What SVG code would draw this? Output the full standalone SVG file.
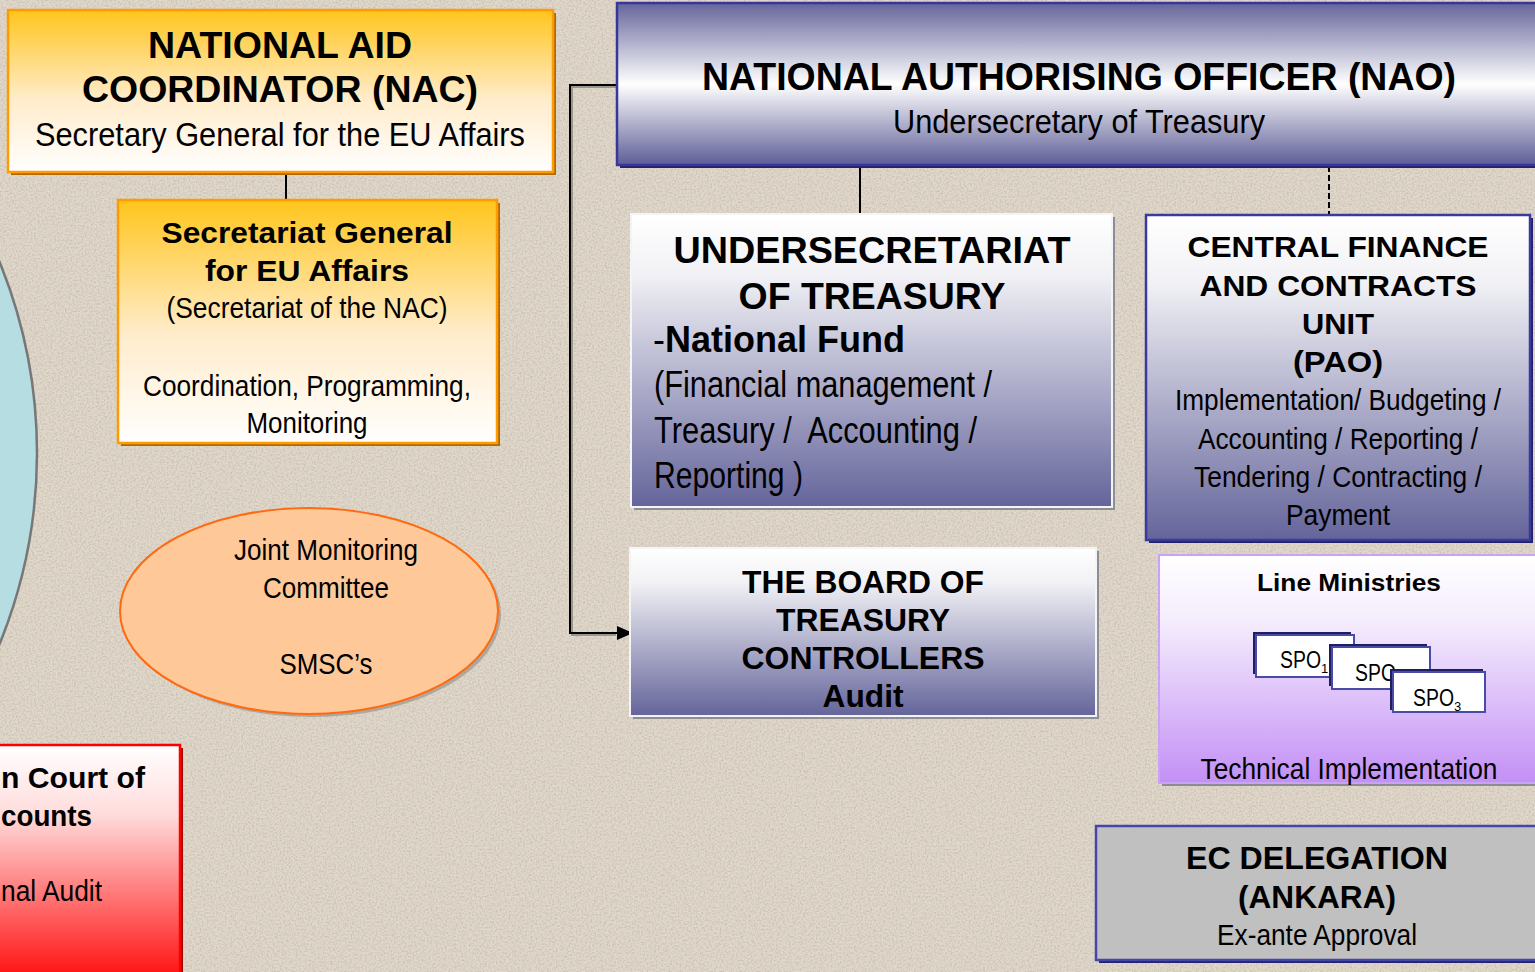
<svg xmlns="http://www.w3.org/2000/svg" width="1535" height="972" viewBox="0 0 1535 972">
  <defs>
    <filter id="grain" x="0" y="0" width="100%" height="100%">
      <feTurbulence type="fractalNoise" baseFrequency="0.55" numOctaves="3" seed="7" result="n"/>
      <feColorMatrix in="n" type="matrix" values="0 0 0 0 0.45  0 0 0 0 0.42  0 0 0 0 0.38  0 0 0 -2.2 1.35" />
    </filter>
    <linearGradient id="gYellow" x1="0" y1="0" x2="0" y2="1">
      <stop offset="0" stop-color="#ffc51c"/>
      <stop offset="0.55" stop-color="#ffeccb"/>
      <stop offset="1" stop-color="#ffffff"/>
    </linearGradient>
    <linearGradient id="gNao" x1="0" y1="0" x2="0" y2="1">
      <stop offset="0" stop-color="#65659b"/>
      <stop offset="0.5" stop-color="#ffffff"/>
      <stop offset="1" stop-color="#5d5d97"/>
    </linearGradient>
    <linearGradient id="gBlue" x1="0" y1="0" x2="0" y2="1">
      <stop offset="0" stop-color="#ffffff"/>
      <stop offset="0.2" stop-color="#f2f2f6"/>
      <stop offset="1" stop-color="#64649b"/>
    </linearGradient>
    <linearGradient id="gViolet" x1="0" y1="0" x2="0" y2="1">
      <stop offset="0" stop-color="#ffffff"/>
      <stop offset="0.3" stop-color="#f4ecfd"/>
      <stop offset="1" stop-color="#c38ff5"/>
    </linearGradient>
    <linearGradient id="gRed" x1="0" y1="0" x2="0" y2="1">
      <stop offset="0" stop-color="#ffffff"/>
      <stop offset="0.3" stop-color="#ffdcdc"/>
      <stop offset="1" stop-color="#ff1414"/>
    </linearGradient>
    <marker id="arrow" viewBox="0 0 16 14" refX="15" refY="7" markerWidth="16" markerHeight="14" markerUnits="userSpaceOnUse" orient="auto">
      <path d="M0,0 L16,7 L0,14 Z" fill="#000"/>
    </marker>
    <style>
      .b { font-family: "Liberation Sans", Arial, sans-serif; font-weight: bold; fill: #000; }
      .n { font-family: "Liberation Sans Narrow", "Arial Narrow", "Liberation Sans", sans-serif; fill: #000; }
      .c { text-anchor: middle; }
      .link { fill: none; stroke: #000; stroke-width: 2; }
      .linkShadow { fill: none; stroke: #9a968e; stroke-width: 2; }
      .spoShadow { fill: #1e1e60; }
      .spo { fill: #fff; stroke: #4a4aa8; stroke-width: 2; }
    </style>
  </defs>

  <!-- textured backdrop -->
  <rect x="0" y="0" width="1535" height="972" fill="#e1d8ca"/>
  <rect x="0" y="0" width="1535" height="972" filter="url(#grain)" opacity="0.55"/>

  <!-- partial circle at left edge -->
  <g id="side-circle">
    <circle cx="-469" cy="453" r="506" fill="#b6dde2" stroke="#777" stroke-width="2.5"/>
  </g>

  <!-- connectors -->
  <g id="connectors">
    <line x1="286" y1="172" x2="286" y2="200" class="link"/>
    <path d="M619,87 H572 V635 H616" class="linkShadow"/>
    <path d="M617,85 H570 V633 H632" class="link" marker-end="url(#arrow)"/>
    <line x1="860" y1="165" x2="860" y2="214" class="link"/>
    <line x1="1329" y1="166" x2="1329" y2="217" stroke="#000" stroke-width="2" stroke-dasharray="6,3"/>
  </g>

  <!-- National Aid Coordinator -->
  <g id="nac">
    <rect x="11" y="13" width="545" height="162" fill="#b06a00"/>
    <rect x="8" y="10" width="545" height="162" fill="url(#gYellow)" stroke="#ff9a00" stroke-width="2.5"/>
    <text x="280" y="58" class="b c" font-size="36" textLength="264" lengthAdjust="spacingAndGlyphs">NATIONAL AID</text>
    <text x="280" y="102" class="b c" font-size="36" textLength="396" lengthAdjust="spacingAndGlyphs">COORDINATOR (NAC)</text>
    <text x="280" y="146" class="n c" font-size="34" textLength="490" lengthAdjust="spacingAndGlyphs">Secretary General for the EU Affairs</text>
  </g>

  <!-- Secretariat General for EU Affairs -->
  <g id="secretariat">
    <rect x="121" y="203" width="379" height="243" fill="#b06a00"/>
    <rect x="118" y="200" width="379" height="243" fill="url(#gYellow)" stroke="#ff9a00" stroke-width="2.5"/>
    <text x="307" y="243" class="b c" font-size="30" textLength="291" lengthAdjust="spacingAndGlyphs">Secretariat General</text>
    <text x="307" y="281" class="b c" font-size="30" textLength="204" lengthAdjust="spacingAndGlyphs">for EU Affairs</text>
    <text x="307" y="318" class="n c" font-size="30" textLength="281" lengthAdjust="spacingAndGlyphs">(Secretariat of the NAC)</text>
    <text x="307" y="396" class="n c" font-size="30" textLength="328" lengthAdjust="spacingAndGlyphs">Coordination, Programming,</text>
    <text x="307" y="433" class="n c" font-size="30" textLength="121" lengthAdjust="spacingAndGlyphs">Monitoring</text>
  </g>

  <!-- Joint Monitoring Committee -->
  <g id="jmc">
    <ellipse cx="312" cy="614" rx="189" ry="103" fill="#8f8a82" opacity="0.6"/>
    <ellipse cx="309" cy="611" rx="189" ry="103" fill="#ffc898" stroke="#ff6a10" stroke-width="2"/>
    <text x="326" y="560" class="n c" font-size="30" textLength="184" lengthAdjust="spacingAndGlyphs">Joint Monitoring</text>
    <text x="326" y="598" class="n c" font-size="30" textLength="126" lengthAdjust="spacingAndGlyphs">Committee</text>
    <text x="326" y="674" class="n c" font-size="30" textLength="93" lengthAdjust="spacingAndGlyphs">SMSC’s</text>
  </g>

  <!-- Court of Accounts (runs off the left edge) -->
  <g id="court">
    <rect x="-10" y="748" width="193" height="230" fill="#a80000"/>
    <rect x="-10" y="745" width="190" height="230" fill="url(#gRed)" stroke="#ff0000" stroke-width="2.5"/>
    <text x="1" y="788" class="b" font-size="30" textLength="144" lengthAdjust="spacingAndGlyphs">n Court of</text>
    <text x="1" y="826" class="b" font-size="30" textLength="91" lengthAdjust="spacingAndGlyphs">counts</text>
    <text x="1" y="901" class="n" font-size="30" textLength="101" lengthAdjust="spacingAndGlyphs">nal Audit</text>
  </g>

  <!-- National Authorising Officer -->
  <g id="nao">
    <rect x="620" y="6" width="930" height="162" fill="#23236a"/>
    <rect x="617" y="3" width="930" height="162" fill="url(#gNao)" stroke="#36369c" stroke-width="2.5"/>
    <text x="1079" y="90" class="n c" font-size="39" font-weight="bold" textLength="754" lengthAdjust="spacingAndGlyphs">NATIONAL AUTHORISING OFFICER (NAO)</text>
    <text x="1079" y="133" class="n c" font-size="34" textLength="372" lengthAdjust="spacingAndGlyphs">Undersecretary of Treasury</text>
  </g>

  <!-- Undersecretariat of Treasury -->
  <g id="undersecretariat">
    <rect x="634" y="217" width="481" height="293" fill="#8d8d95"/>
    <rect x="631" y="214" width="481" height="293" fill="url(#gBlue)" stroke="#f4f4f4" stroke-width="2"/>
    <text x="872" y="263" class="b c" font-size="36" textLength="397" lengthAdjust="spacingAndGlyphs">UNDERSECRETARIAT</text>
    <text x="872" y="309" class="b c" font-size="36" textLength="267" lengthAdjust="spacingAndGlyphs">OF TREASURY</text>
    <text x="653" y="352" class="n" font-size="36">-<tspan class="b" font-size="36">National Fund</tspan></text>
    <text x="654" y="397" class="n" font-size="36" textLength="338" lengthAdjust="spacingAndGlyphs">(Financial management /</text>
    <text x="654" y="443" class="n" font-size="36" textLength="323" lengthAdjust="spacingAndGlyphs" xml:space="preserve">Treasury /  Accounting /</text>
    <text x="654" y="488" class="n" font-size="36" textLength="149" lengthAdjust="spacingAndGlyphs">Reporting )</text>
  </g>

  <!-- Central Finance and Contracts Unit -->
  <g id="cfcu">
    <rect x="1149" y="218" width="384" height="325" fill="#23236a"/>
    <rect x="1146" y="215" width="384" height="325" fill="url(#gBlue)" stroke="#3a3a9c" stroke-width="2.5"/>
    <text x="1338" y="257" class="b c" font-size="30" textLength="301" lengthAdjust="spacingAndGlyphs">CENTRAL FINANCE</text>
    <text x="1338" y="296" class="b c" font-size="30" textLength="277" lengthAdjust="spacingAndGlyphs">AND CONTRACTS</text>
    <text x="1338" y="334" class="b c" font-size="30" textLength="72" lengthAdjust="spacingAndGlyphs">UNIT</text>
    <text x="1338" y="372" class="b c" font-size="30" textLength="90" lengthAdjust="spacingAndGlyphs">(PAO)</text>
    <text x="1338" y="410" class="n c" font-size="30" textLength="326" lengthAdjust="spacingAndGlyphs">Implementation/ Budgeting /</text>
    <text x="1338" y="449" class="n c" font-size="30" textLength="280" lengthAdjust="spacingAndGlyphs">Accounting / Reporting /</text>
    <text x="1338" y="487" class="n c" font-size="30" textLength="288" lengthAdjust="spacingAndGlyphs">Tendering / Contracting /</text>
    <text x="1338" y="525" class="n c" font-size="30" textLength="104" lengthAdjust="spacingAndGlyphs">Payment</text>
  </g>

  <!-- Board of Treasury Controllers -->
  <g id="board">
    <rect x="633" y="551" width="466" height="168" fill="#8d8d95"/>
    <rect x="630" y="548" width="466" height="168" fill="url(#gBlue)" stroke="#f4f4f4" stroke-width="2"/>
    <text x="863" y="593" class="b c" font-size="31" textLength="242" lengthAdjust="spacingAndGlyphs">THE BOARD OF</text>
    <text x="863" y="631" class="b c" font-size="31" textLength="174" lengthAdjust="spacingAndGlyphs">TREASURY</text>
    <text x="863" y="669" class="b c" font-size="31" textLength="243" lengthAdjust="spacingAndGlyphs">CONTROLLERS</text>
    <text x="863" y="707" class="b c" font-size="31" textLength="81" lengthAdjust="spacingAndGlyphs">Audit</text>
  </g>

  <!-- Line Ministries -->
  <g id="line-ministries">
    <rect x="1162" y="558" width="380" height="228" fill="#8d8a95"/>
    <rect x="1159" y="555" width="380" height="228" fill="url(#gViolet)" stroke="#c9a4f4" stroke-width="2"/>
    <text x="1349" y="591" class="b c" font-size="24" textLength="184" lengthAdjust="spacingAndGlyphs">Line Ministries</text>
    <text x="1349" y="779" class="n c" font-size="30" textLength="297" lengthAdjust="spacingAndGlyphs">Technical Implementation</text>
  </g>

  <g id="spo1">
    <rect x="1253" y="632" width="98" height="42" class="spoShadow"/>
    <rect x="1256" y="635" width="98" height="42" class="spo"/>
    <text x="1280" y="668" class="n" font-size="23"><tspan textLength="41" lengthAdjust="spacingAndGlyphs">SPO</tspan><tspan font-size="13" dy="5">1</tspan></text>
  </g>
  <g id="spo2">
    <rect x="1329" y="644" width="98" height="42" class="spoShadow"/>
    <rect x="1332" y="647" width="98" height="42" class="spo"/>
    <text x="1355" y="681" class="n" font-size="23"><tspan textLength="41" lengthAdjust="spacingAndGlyphs">SPO</tspan><tspan font-size="13" dy="5">2</tspan></text>
  </g>
  <g id="spo3">
    <rect x="1390" y="669" width="93" height="41" class="spoShadow"/>
    <rect x="1393" y="672" width="92" height="40" class="spo"/>
    <text x="1413" y="706" class="n" font-size="23"><tspan textLength="41" lengthAdjust="spacingAndGlyphs">SPO</tspan><tspan font-size="13" dy="5">3</tspan></text>
  </g>

  <!-- EC Delegation -->
  <g id="ec-delegation">
    <rect x="1099" y="829" width="445" height="134" fill="#23236a"/>
    <rect x="1096" y="826" width="445" height="134" fill="#c0c0c0" stroke="#4646aa" stroke-width="2.5"/>
    <text x="1317" y="869" class="b c" font-size="32" textLength="262" lengthAdjust="spacingAndGlyphs">EC DELEGATION</text>
    <text x="1317" y="908" class="b c" font-size="32" textLength="158" lengthAdjust="spacingAndGlyphs">(ANKARA)</text>
    <text x="1317" y="945" class="n c" font-size="30" textLength="200" lengthAdjust="spacingAndGlyphs">Ex-ante Approval</text>
  </g>
</svg>
